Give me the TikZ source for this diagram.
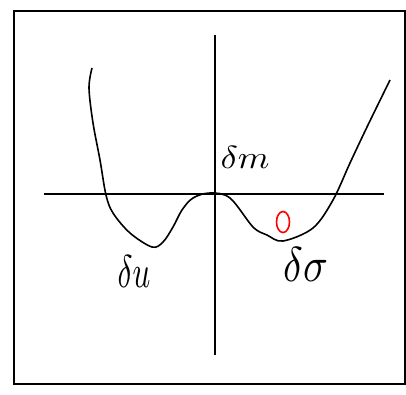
\documentclass[tikz,border=0pt]{standalone}
\usepackage{amsmath,amssymb}
\usepackage{graphicx}
\usepackage{tikz}
\usetikzlibrary{shapes,arrows,positioning,calc}

\begin{document}
\begin{tikzpicture}[x=1pt, y=-1pt, line width=1.4pt]
            \useasboundingbox (0,0) rectangle (406,394);
            \draw (14,11) rectangle (405,384);
            % axes
            \coordinate (xl) at (44,194);
            \coordinate (xr) at (384,194);
            \coordinate (yt) at (215,35);
            \coordinate (yb) at (215,355);
            \draw (xl) -- (xr);
            \draw (yt) -- (yb);
            % double well
            \draw[line width=1.6pt] plot[smooth, tension=0.55] coordinates {(92,68) (89,88) (93,123) (100,160) (106,195) (113,213) (130,233) (152,247) (163,242) (173,227) (182,210) (193,198) (210,193) (230,198) (253,227) (267,235) (283,241) (313,228) (333,200) (350,163) (367,127) (390,80)};
            \node (top) at (245,157) {\scalebox{3.6}[3.2]{$\delta m$}};
            \node (left) at (134,272) {\scalebox{3.1}[4.6]{$\delta u$}};
            \node (right) at (306,264) {\scalebox{4.1}[4.9]{$\delta\sigma$}};
            \node[draw=red, ellipse, line width=1.6pt, minimum width=13pt, minimum height=21pt, inner sep=0pt] (ball) at (283,222) {};
        \end{tikzpicture}
\end{document}
